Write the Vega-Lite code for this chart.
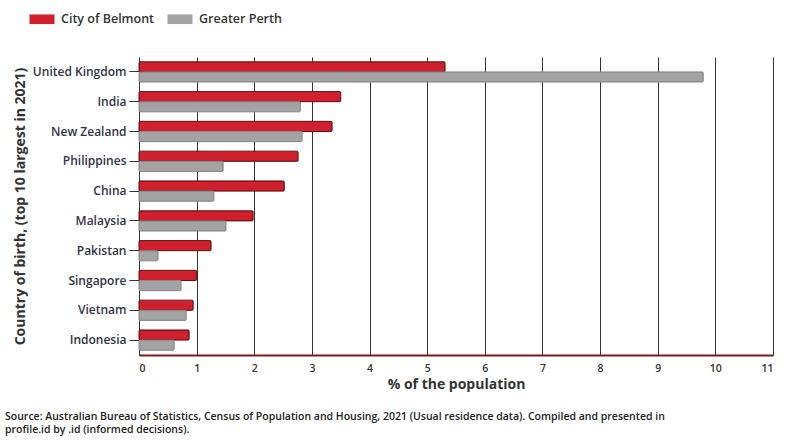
{
  "$schema": "https://vega.github.io/schema/vega-lite/v6.json",
  "width": 634,
  "height": 298,
  "autosize": {"type": "none"},
  "padding": {"left": 139, "top": 57, "right": 26, "bottom": 88},
  "background": "white",
  "title": {
    "text": ["Source: Australian Bureau of Statistics, Census of Population and Housing, 2021 (Usual residence data). Compiled and presented in", "profile.id by .id (informed decisions)."],
    "orient": "bottom",
    "anchor": "start",
    "frame": "group",
    "dx": -134,
    "offset": 20,
    "fontSize": 10.5,
    "fontWeight": 600,
    "font": "Open Sans",
    "color": "#222222",
    "lineHeight": 13
  },
  "data": {
    "values": [
      {"country": "United Kingdom", "area": "City of Belmont", "pct": 5.31},
      {"country": "United Kingdom", "area": "Greater Perth", "pct": 9.79},
      {"country": "India", "area": "City of Belmont", "pct": 3.5},
      {"country": "India", "area": "Greater Perth", "pct": 2.8},
      {"country": "New Zealand", "area": "City of Belmont", "pct": 3.35},
      {"country": "New Zealand", "area": "Greater Perth", "pct": 2.83},
      {"country": "Philippines", "area": "City of Belmont", "pct": 2.76},
      {"country": "Philippines", "area": "Greater Perth", "pct": 1.46},
      {"country": "China", "area": "City of Belmont", "pct": 2.52},
      {"country": "China", "area": "Greater Perth", "pct": 1.3},
      {"country": "Malaysia", "area": "City of Belmont", "pct": 1.98},
      {"country": "Malaysia", "area": "Greater Perth", "pct": 1.51},
      {"country": "Pakistan", "area": "City of Belmont", "pct": 1.25},
      {"country": "Pakistan", "area": "Greater Perth", "pct": 0.33},
      {"country": "Singapore", "area": "City of Belmont", "pct": 1.0},
      {"country": "Singapore", "area": "Greater Perth", "pct": 0.73},
      {"country": "Vietnam", "area": "City of Belmont", "pct": 0.94},
      {"country": "Vietnam", "area": "Greater Perth", "pct": 0.82},
      {"country": "Indonesia", "area": "City of Belmont", "pct": 0.87},
      {"country": "Indonesia", "area": "Greater Perth", "pct": 0.61}
    ]
  },
  "mark": {"type": "bar", "cornerRadius": 1, "strokeWidth": 1},
  "encoding": {
    "y": {
      "field": "country",
      "type": "nominal",
      "sort": null,
      "scale": {"paddingInner": 0.32, "paddingOuter": 0.16},
      "axis": {
        "title": "Country of birth, (top 10 largest in 2021)",
        "titleFontSize": 14,
        "titleFont": "Open Sans",
        "titleFontWeight": "bold",
        "titleColor": "#333333",
        "titlePadding": 5,
        "labelFont": "Open Sans",
        "labelFontSize": 12,
        "labelFontWeight": 600,
        "labelColor": "#333344",
        "labelPadding": 3,
        "tickSize": 10,
        "tickColor": "#333333",
        "domain": true,
        "domainColor": "#333333",
        "grid": false
      }
    },
    "yOffset": {"field": "area", "type": "nominal", "sort": ["City of Belmont", "Greater Perth"]},
    "x": {
      "field": "pct",
      "type": "quantitative",
      "scale": {"domain": [0, 11], "nice": false},
      "axis": {
        "title": "% of the population",
        "titleFontSize": 14,
        "titleFont": "Open Sans",
        "titleFontWeight": "bold",
        "titleColor": "#333333",
        "titlePadding": 4,
        "values": [0, 1, 2, 3, 4, 5, 6, 7, 8, 9, 10, 11],
        "labelFont": "Open Sans",
        "labelFontSize": 10.5,
        "labelFontWeight": 600,
        "labelColor": "#333333",
        "labelPadding": 8,
        "ticks": false,
        "domainColor": "#7a1a1f",
        "domainWidth": 2,
        "grid": true,
        "gridColor": "#333333",
        "gridWidth": 1
      }
    },
    "color": {
      "field": "area",
      "type": "nominal",
      "sort": ["City of Belmont", "Greater Perth"],
      "scale": {"domain": ["City of Belmont", "Greater Perth"], "range": ["#d0202e", "#a3a3a3"]},
      "legend": {
        "title": null,
        "orient": "none",
        "direction": "horizontal",
        "legendX": -107,
        "legendY": -48,
        "symbolType": "M-1.3,-0.5H1.3V0.5H-1.3Z",
        "symbolSize": 370,
        "symbolStrokeWidth": 0,
        "labelFont": "Open Sans",
        "labelFontSize": 12.5,
        "labelFontWeight": 600,
        "labelColor": "#333333",
        "labelOffset": 9,
        "columnPadding": 12,
        "symbolOffset": 0
      }
    },
    "stroke": {
      "field": "area",
      "type": "nominal",
      "scale": {"domain": ["City of Belmont", "Greater Perth"], "range": ["#6a1015", "#8a8a8a"]},
      "legend": null
    }
  },
  "config": {"view": {"stroke": null}}
}
